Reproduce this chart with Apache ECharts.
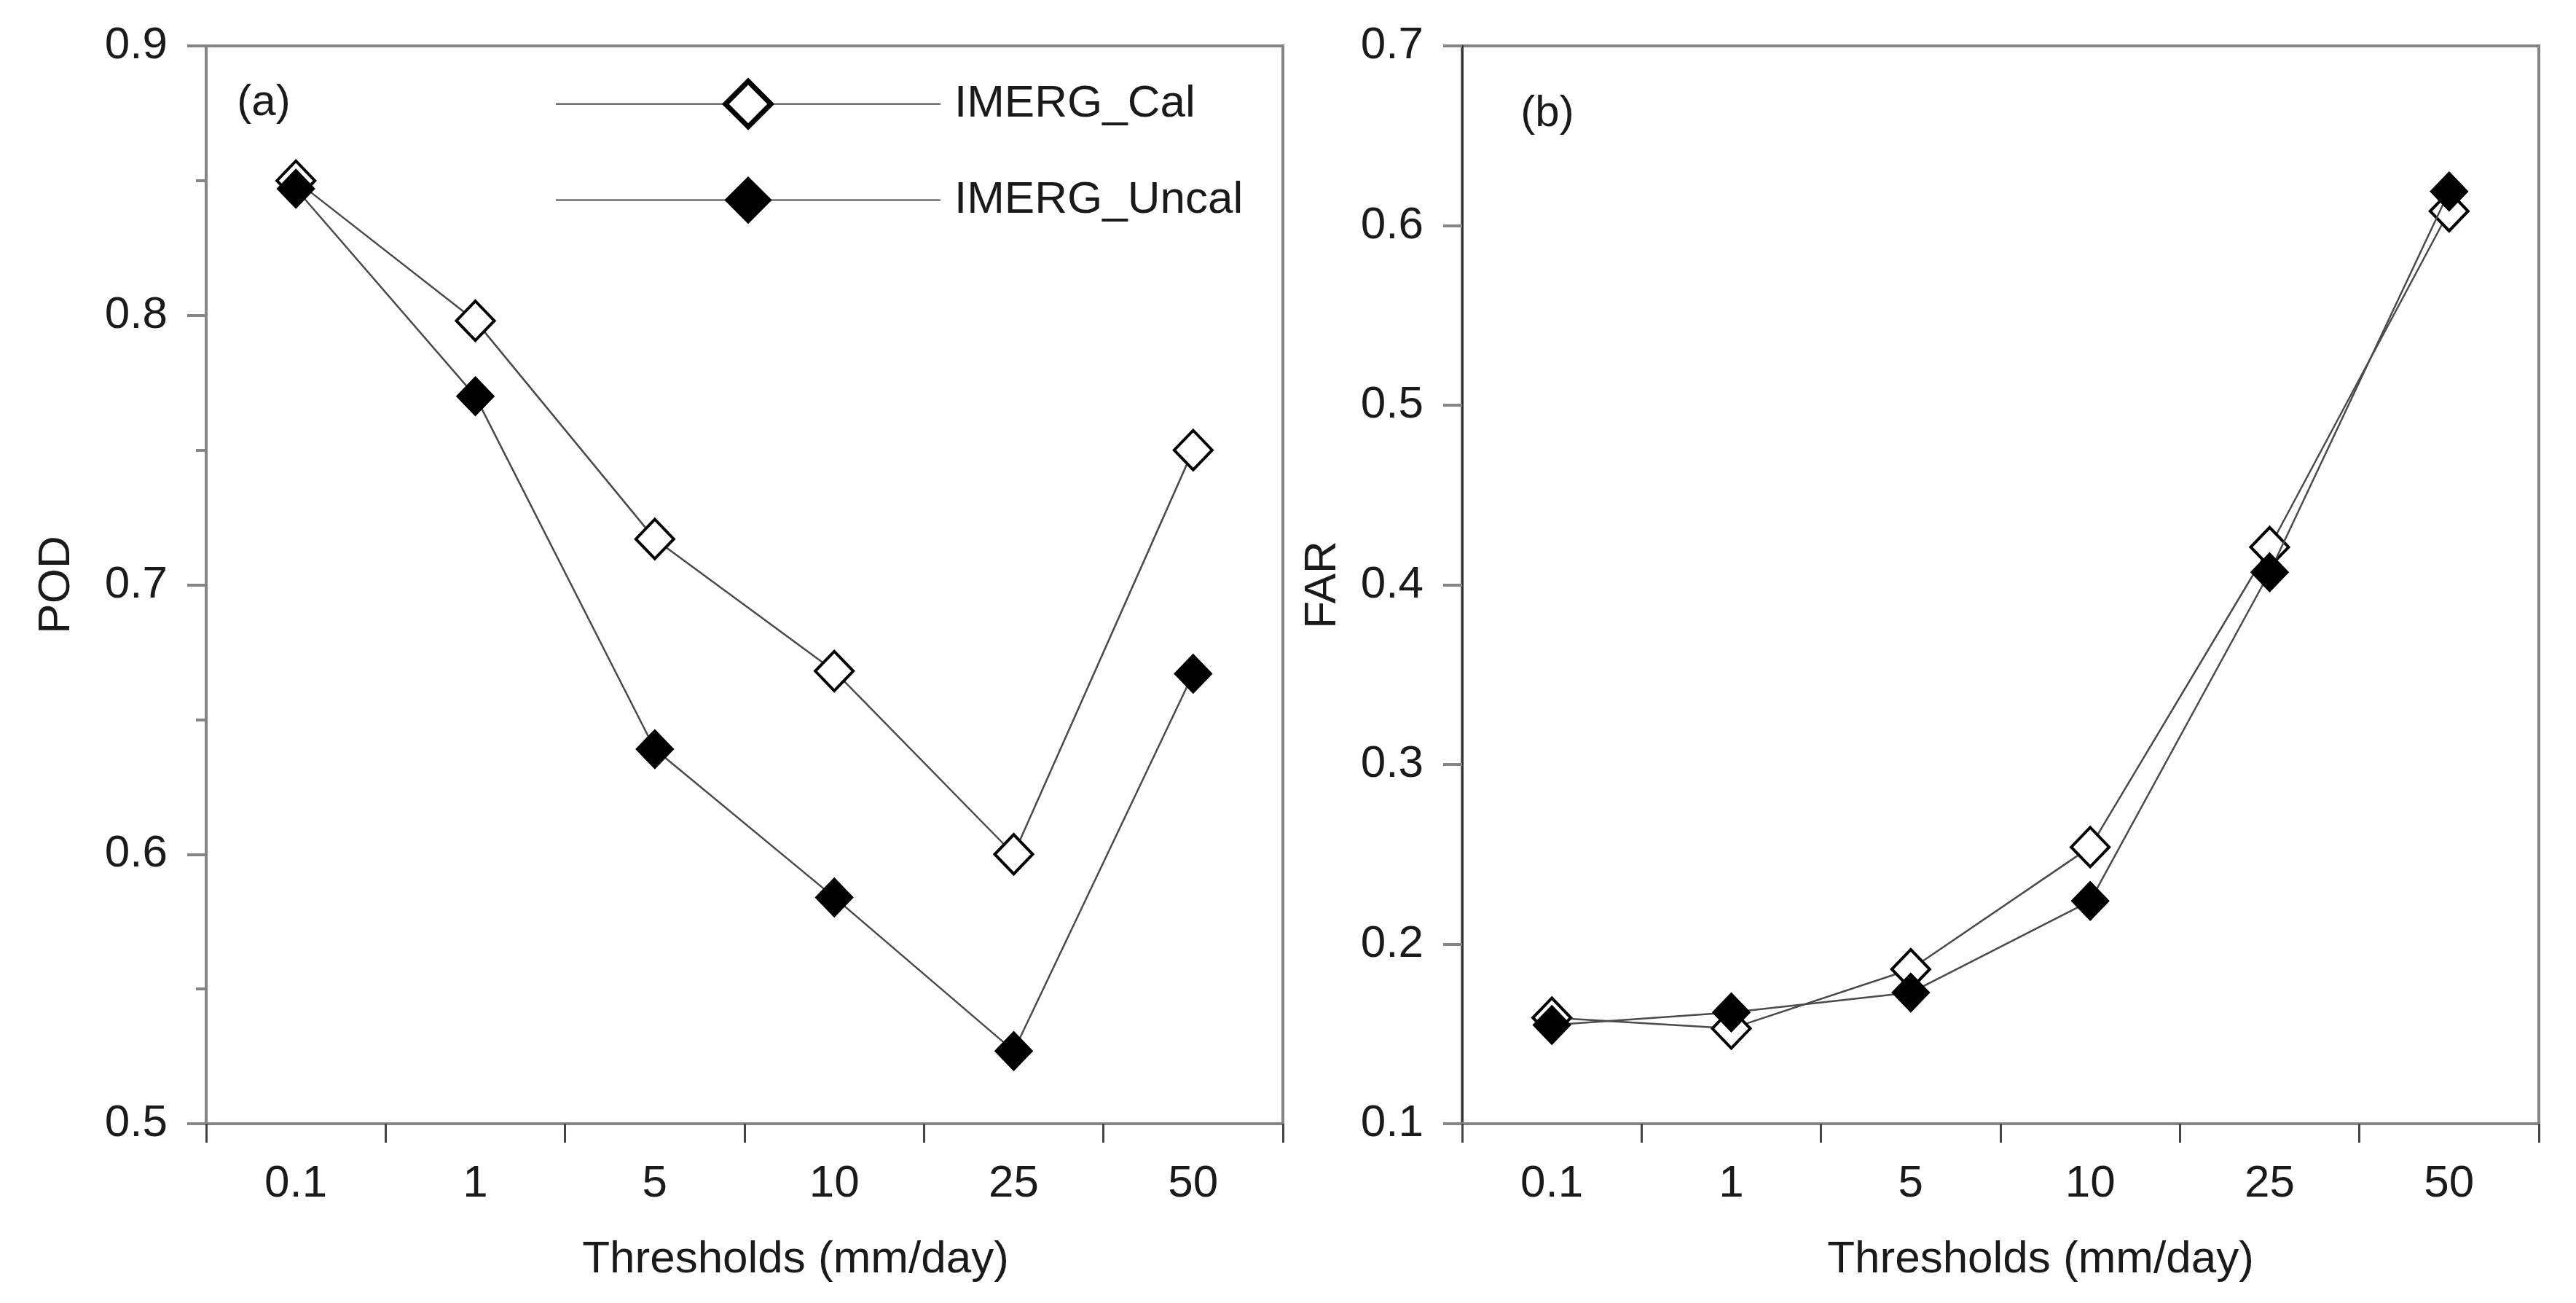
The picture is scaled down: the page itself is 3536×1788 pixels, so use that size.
<!DOCTYPE html>
<html>
<head>
<meta charset="utf-8">
<script src="https://cdn.jsdelivr.net/npm/echarts@6/dist/echarts.min.js"></script>
<style>
  html, body { margin: 0; padding: 0; background: #ffffff; }
  #chart { width: 3536px; height: 1788px; }
</style>
</head>
<body>
<div id="chart"></div>
<script>
const thresholds = ["0.1", "1", "5", "10", "25", "50"];
const seriesNames = ["IMERG_Cal", "IMERG_Uncal"];

// panel (a) POD
const podCal = [0.850, 0.798, 0.717, 0.668, 0.600, 0.750];
const podUncal = [0.847, 0.770, 0.639, 0.584, 0.527, 0.667];

// panel (b) FAR
const farCal = [0.159, 0.153, 0.186, 0.254, 0.421, 0.608];
const farUncal = [0.155, 0.162, 0.173, 0.224, 0.407, 0.619];

const FONT = "'Liberation Sans', Arial, sans-serif";
const TEXT = "#1a1a1a";
const FRAME = "#858585";
const FS = 62;

function xAxisFor(gridIndex, shift) {
  return {
    type: "category",
    gridIndex: gridIndex,
    data: thresholds,
    boundaryGap: true,
    name: "Thresholds (mm/day)",
    nameLocation: "middle",
    nameGap: 156,
    nameTextStyle: { fontFamily: FONT, fontSize: FS, color: TEXT, padding: [0, 0, 0, shift * 2] },
    axisLine: { show: true, lineStyle: { color: FRAME, width: 4 } },
    axisTick: { show: true, alignWithLabel: false, length: 26, lineStyle: { color: "#444", width: 3 } },
    axisLabel: { margin: 52, fontFamily: FONT, fontSize: FS, color: TEXT },
    splitLine: { show: false },
  };
}

function yAxisFor(gridIndex, name, min, max, opts) {
  return {
    type: "value",
    gridIndex: gridIndex,
    min: min,
    max: max,
    interval: 0.1,
    name: name,
    nameLocation: "middle",
    nameGap: opts.nameGap,
    nameTextStyle: { fontFamily: FONT, fontSize: FS, color: TEXT },
    axisLine: { show: true, lineStyle: { color: opts.lineColor, width: opts.lineWidth } },
    axisTick: { show: true, length: 26, lineStyle: { color: FRAME, width: 4 } },
    minorTick: { show: opts.minor, splitNumber: 2, length: 14, lineStyle: { color: FRAME, width: 4 } },
    axisLabel: {
      margin: 53,
      fontFamily: FONT,
      fontSize: FS,
      color: TEXT,
      formatter: (v) => Number(v).toFixed(1),
    },
    splitLine: { show: false },
  };
}

function lineSeries(name, data, idx, filled) {
  return {
    name: name,
    type: "line",
    xAxisIndex: idx,
    yAxisIndex: idx,
    data: data,
    symbol: "diamond",
    symbolSize: [52, 54],
    showSymbol: true,
    lineStyle: { color: "#4a4a4a", width: 2.5 },
    itemStyle: filled
      ? { color: "#000000", borderColor: "#000000", borderWidth: 1 }
      : { color: "#ffffff", borderColor: "#000000", borderWidth: 4 },
    emphasis: { disabled: true },
    z: filled ? 3 : 2,
  };
}

const chart = echarts.init(document.getElementById("chart"));
chart.setOption({
  animation: false,
  backgroundColor: "#ffffff",
  grid: [
    { left: 283, right: 1775, top: 63, bottom: 246, show: true, borderColor: FRAME, borderWidth: 4 },
    { left: 2007, right: 51, top: 63, bottom: 246, show: true, borderColor: FRAME, borderWidth: 4 },
  ],
  xAxis: [xAxisFor(0, 70), xAxisFor(1, 55)],
  yAxis: [
    yAxisFor(0, "POD", 0.5, 0.9, { nameGap: 174, lineColor: FRAME, lineWidth: 4, minor: true }),
    yAxisFor(1, "FAR", 0.1, 0.7, { nameGap: 160, lineColor: "#333333", lineWidth: 3, minor: false }),
  ],
  legend: {
    orient: "vertical",
    left: 757,
    top: 103,
    itemWidth: 528,
    itemHeight: 78,
    itemGap: 65,
    selectedMode: false,
    textStyle: { fontFamily: FONT, fontSize: FS, color: TEXT, padding: [0, 0, 0, 14] },
    data: [
      { name: seriesNames[0], itemStyle: { borderWidth: 7 } },
      { name: seriesNames[1] },
    ],
  },
  graphic: [
    {
      type: "text",
      x: 362,
      y: 141,
      style: { text: "(a)", fontFamily: FONT, fontSize: 60, fill: TEXT, align: "center", verticalAlign: "middle" },
    },
    {
      type: "text",
      x: 2124,
      y: 156,
      style: { text: "(b)", fontFamily: FONT, fontSize: 60, fill: TEXT, align: "center", verticalAlign: "middle" },
    },
  ],
  series: [
    lineSeries(seriesNames[0], podCal, 0, false),
    lineSeries(seriesNames[1], podUncal, 0, true),
    lineSeries(seriesNames[0], farCal, 1, false),
    lineSeries(seriesNames[1], farUncal, 1, true),
  ],
});
</script>
</body>
</html>
